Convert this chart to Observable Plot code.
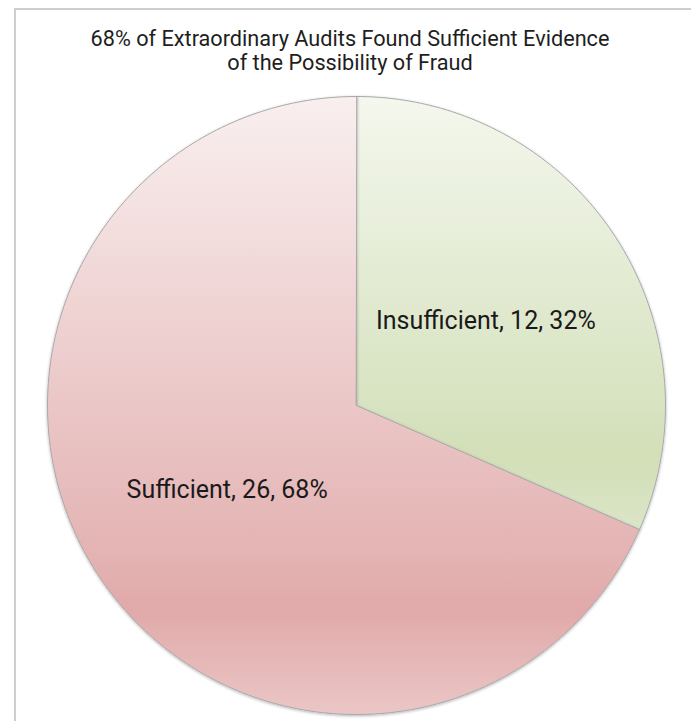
<!DOCTYPE html>
<html>
<head>
<meta charset="utf-8">
<script src="https://cdn.jsdelivr.net/npm/d3@7"></script>
<script src="https://cdn.jsdelivr.net/npm/@observablehq/plot@0.6"></script>
<style>
  html, body { margin: 0; padding: 0; background: #ffffff; }
  #wrap { position: relative; width: 691px; height: 721px; overflow: hidden; font-family: Roboto, "Noto Sans", sans-serif; }
  #frame { position: absolute; left: 14px; top: 8px; width: 720px; height: 800px; border: 2px solid #cfcfcf; box-sizing: border-box; }
  #title { position: relative; height: 88px; box-sizing: border-box; padding-top: 27px; width: 700px; text-align: center; font-size: 21.7px; line-height: 24px; color: #1e1e1e; }
  #chart { position: relative; }
  #chart svg { display: block; }
</style>
</head>
<body>
<div id="wrap">
  <div id="frame"></div>
  <div id="title"></div>
  <div id="chart"></div>
</div>
<script>
// ---- data ----
const categories = ["Insufficient", "Sufficient"];
const counts = [12, 26];
const percentLabels = ["32%", "68%"];
const titleLines = ["68% of Extraordinary Audits Found Sufficient Evidence", "of the Possibility of Fraud"];

// ---- build ----
document.getElementById("title").innerHTML = titleLines.join("<br>");

const slices = categories.map((c, i) => ({category: c, count: counts[i], pct: percentLabels[i]}));
const arcs = d3.pie().sort(null).value(d => d.count)(slices);

const steps = 360;
const slicePoints = arcs.map(a => {
  const pts = [{category: a.data.category, x: 0, y: 0}];
  const n = Math.max(2, Math.ceil((a.endAngle - a.startAngle) / (2 * Math.PI) * steps));
  for (let k = 0; k <= n; k++) {
    const t = a.startAngle + (a.endAngle - a.startAngle) * k / n;
    pts.push({category: a.data.category, x: Math.sin(t), y: Math.cos(t)});
  }
  return pts;
});

const labels = arcs.map(a => {
  const m = (a.startAngle + a.endAngle) / 2;
  return {x: 0.5 * Math.sin(m), y: 0.5 * Math.cos(m), text: `${a.data.category}, ${a.data.count}, ${a.data.pct}`};
});

const fills = {Insufficient: "url(#gradGreen)", Sufficient: "url(#gradRed)"};

const R = 309, cx = 356, cy = 317;
const plot = Plot.plot({
  width: 691,
  height: 633,
  margin: 0,
  style: {fontFamily: "Roboto, 'Noto Sans', sans-serif", background: "transparent", overflow: "visible"},
  x: {domain: [-1, 1], range: [cx - R, cx + R], axis: null},
  y: {domain: [-1, 1], range: [cy + R, cy - R], axis: null},
  marks: [
    ...slicePoints.map(pts => Plot.line(pts, {
      x: "x", y: "y", curve: "linear-closed",
      fill: fills[pts[0].category], stroke: "#a9a9a9", strokeWidth: 1,
      strokeLinejoin: "round"
    })),
    Plot.text(labels, {x: "x", y: "y", text: "text", fontSize: 25, fill: "#1a1a1a"})
  ]
});

// gradients + shadow
const ns = "http://www.w3.org/2000/svg";
const defs = document.createElementNS(ns, "defs");
function grad(id, stops) {
  const g = document.createElementNS(ns, "linearGradient");
  g.setAttribute("id", id);
  g.setAttribute("x1", "0"); g.setAttribute("y1", "0");
  g.setAttribute("x2", "0"); g.setAttribute("y2", "1");
  stops.forEach(([o, c]) => {
    const s = document.createElementNS(ns, "stop");
    s.setAttribute("offset", o); s.setAttribute("stop-color", c);
    g.appendChild(s);
  });
  defs.appendChild(g);
}
grad("gradRed", [[0, "#f9efef"], [0.74, "#e4b3b3"], [0.83, "#e1a9a9"], [1, "#ebc6c6"]]);
grad("gradGreen", [[0, "#f4f7ed"], [0.74, "#d6e2bf"], [0.83, "#d2dfb7"], [1, "#dbe5c8"]]);
const f = document.createElementNS(ns, "filter");
f.setAttribute("id", "shadow");
f.setAttribute("x", "-10%"); f.setAttribute("y", "-10%");
f.setAttribute("width", "120%"); f.setAttribute("height", "120%");
const ds = document.createElementNS(ns, "feDropShadow");
ds.setAttribute("dx", "0"); ds.setAttribute("dy", "1");
ds.setAttribute("stdDeviation", "1.5");
ds.setAttribute("flood-color", "#000"); ds.setAttribute("flood-opacity", "0.3");
f.appendChild(ds);
defs.appendChild(f);
plot.insertBefore(defs, plot.firstChild);
plot.querySelectorAll("path").forEach(p => p.setAttribute("filter", "url(#shadow)"));

document.getElementById("chart").appendChild(plot);
</script>
</body>
</html>
